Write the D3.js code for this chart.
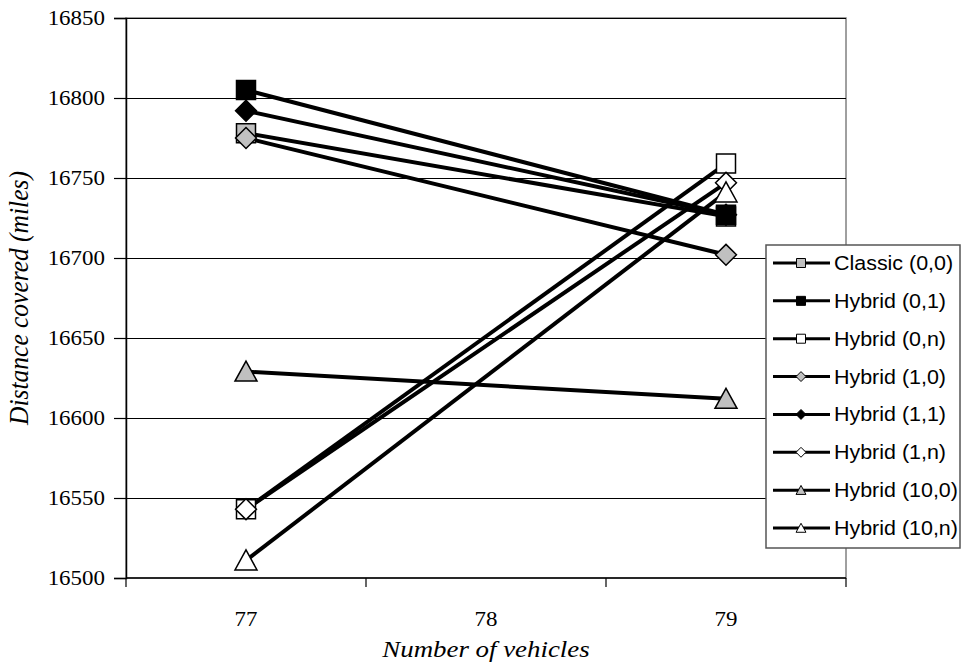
<!DOCTYPE html>
<html>
<head>
<meta charset="utf-8">
<script src="https://cdn.jsdelivr.net/npm/d3@7"></script>
<style>
  html, body { margin: 0; padding: 0; background: #fff; }
  svg { display: block; }
</style>
</head>
<body>
<svg id="chart" width="963" height="668"></svg>
<script>
// Fleet sizes on the x axis
const categories = ["77", "78", "79"];
// Configurations actually run (only 77 and 79 vehicles)
const runCategories = ["77", "79"];

const seriesNames = [
  "Classic (0,0)", "Hybrid (0,1)", "Hybrid (0,n)", "Hybrid (1,0)",
  "Hybrid (1,1)", "Hybrid (1,n)", "Hybrid (10,0)", "Hybrid (10,n)"
];

// Distance covered (miles) at 77 and 79 vehicles
const classic00 = [16778, 16726];
const hybrid01  = [16805, 16727];
const hybrid0n  = [16543, 16759];
const hybrid10  = [16775, 16702];
const hybrid11  = [16792, 16727];
const hybrid1n  = [16543, 16747];
const hybrid100 = [16629, 16612];
const hybrid10n = [16511, 16741];

const seriesValues = [classic00, hybrid01, hybrid0n, hybrid10, hybrid11, hybrid1n, hybrid100, hybrid10n];

const yTicks = [16500, 16550, 16600, 16650, 16700, 16750, 16800, 16850];

// marker shape and fill per series
const markerShapes = ["square", "square", "square", "diamond", "diamond", "diamond", "triangle", "triangle"];
const markerFills  = ["#c0c0c0", "#000000", "#ffffff", "#c0c0c0", "#000000", "#ffffff", "#c0c0c0", "#ffffff"];

const SERIF = '"Liberation Serif", "Times New Roman", Times, serif';
const SANS = '"Liberation Sans", Arial, Helvetica, sans-serif';

const svg = d3.select("#chart");
const plot = { left: 126, right: 846, top: 18, bottom: 578 };

const x = d3.scaleBand().domain(categories).range([plot.left, plot.right]).padding(0);
const y = d3.scaleLinear().domain([16500, 16850]).range([plot.bottom, plot.top]);
const cx = c => x(c) + x.bandwidth() / 2;

// text drawn slightly wide, as in the chart's exported typography
function wideText(parent, tx, ty, str, opts) {
  const g = parent.append("g")
    .attr("transform", `translate(${tx},${ty})${opts.rotate ? ` rotate(${opts.rotate})` : ""} scale(${opts.sx || 1},${opts.sy || 1})`);
  return g.append("text")
    .attr("x", 0).attr("y", 0)
    .attr("text-anchor", opts.anchor || "start")
    .style("font-family", opts.family)
    .style("font-size", opts.size + "px")
    .style("font-style", opts.italic ? "italic" : "normal")
    .style("fill", "#000")
    .text(str);
}

// plot area frame
svg.append("rect")
  .attr("x", plot.left).attr("y", plot.top)
  .attr("width", plot.right - plot.left).attr("height", plot.bottom - plot.top)
  .attr("fill", "#fff").attr("stroke", "#808080").attr("stroke-width", 1.5);

// horizontal gridlines
svg.append("g").selectAll("line").data(yTicks.filter(t => t > 16500)).join("line")
  .attr("x1", plot.left).attr("x2", plot.right)
  .attr("y1", d => Math.round(y(d)) + 0.5).attr("y2", d => Math.round(y(d)) + 0.5)
  .attr("stroke", "#000").attr("stroke-width", 1);

// y axis (line and ticks from d3.axisLeft, labels set in serif)
const yAxis = svg.append("g").attr("transform", `translate(${plot.left},0)`)
  .call(d3.axisLeft(y).tickValues(yTicks).tickSize(12).tickFormat(""));
yAxis.select(".domain").attr("stroke", "#000").attr("stroke-width", 1.5);
yAxis.selectAll(".tick line").attr("stroke", "#000").attr("stroke-width", 1.2);
const yLabels = svg.append("g");
yTicks.forEach(t => {
  wideText(yLabels, 105, y(t) + 7, d3.format("d")(t),
    { family: SERIF, size: 20.5, sx: 1.12, anchor: "end" });
});

// x axis: ticks on category boundaries, labels at category centres
const xAxisG = svg.append("g").attr("transform", `translate(0,${plot.bottom})`);
xAxisG.append("line").attr("x1", plot.left).attr("x2", plot.right).attr("y1", 0).attr("y2", 0)
  .attr("stroke", "#000").attr("stroke-width", 1.5);
const boundaries = categories.map(c => x(c)).concat([x(categories[categories.length - 1]) + x.bandwidth()]);
xAxisG.selectAll("line.b").data(boundaries).join("line").attr("class", "b")
  .attr("x1", d => d).attr("x2", d => d).attr("y1", 0).attr("y2", 9)
  .attr("stroke", "#000").attr("stroke-width", 1.2);
categories.forEach(c => {
  wideText(xAxisG, cx(c), 48, c, { family: SERIF, size: 20.5, sx: 1.12, anchor: "middle" });
});

// axis titles
wideText(svg, (plot.left + plot.right) / 2, 657, "Number of vehicles",
  { family: SERIF, size: 24, sx: 1.12, anchor: "middle", italic: true });
wideText(svg, 28, (plot.top + plot.bottom) / 2, "Distance covered (miles)",
  { family: SERIF, size: 25.5, sy: 1.05, rotate: -90, anchor: "middle", italic: true });

// marker path generator
function markerPath(shape, s) {
  const h = s / 2;
  if (shape === "square") return `M${-h},${-h}H${h}V${h}H${-h}Z`;
  if (shape === "diamond") return `M0,${-h * 1.1}L${h * 1.1},0L0,${h * 1.1}L${-h * 1.1},0Z`;
  return `M0,${-h * 1.05}L${h * 1.1},${h * 0.95}L${-h * 1.1},${h * 0.95}Z`;
}

const line = d3.line().x(d => cx(d.c)).y(d => y(d.v));
const seriesData = seriesNames.map((name, i) => ({
  name, i,
  points: runCategories.map((c, k) => ({ c, v: seriesValues[i][k] }))
}));

// series lines
svg.append("g").selectAll("path").data(seriesData).join("path")
  .attr("d", d => line(d.points))
  .attr("fill", "none").attr("stroke", "#000").attr("stroke-width", 4);

// series markers
const mg = svg.append("g");
seriesData.forEach(s => {
  mg.selectAll(null).data(s.points).join("path")
    .attr("transform", d => `translate(${cx(d.c)},${y(d.v)})`)
    .attr("d", markerPath(markerShapes[s.i], markerShapes[s.i] === "triangle" ? 20 : 19))
    .attr("fill", markerFills[s.i]).attr("stroke", "#000").attr("stroke-width", 1.5);
});

// legend
const lg = svg.append("g").attr("transform", "translate(766,245)");
lg.append("rect").attr("x", 0).attr("y", 0).attr("width", 194).attr("height", 303)
  .attr("fill", "#fff").attr("stroke", "#555").attr("stroke-width", 1.5);
const rowY = d3.scaleLinear().domain([0, seriesNames.length - 1]).range([18, 283]);
const items = lg.selectAll("g.item").data(seriesData).join("g").attr("class", "item")
  .attr("transform", d => `translate(0,${rowY(d.i)})`);
items.append("line").attr("x1", 7).attr("x2", 64).attr("y1", 0).attr("y2", 0)
  .attr("stroke", "#000").attr("stroke-width", 3);
items.append("path").attr("transform", "translate(35,0)")
  .attr("d", d => markerPath(markerShapes[d.i], 9))
  .attr("fill", d => markerFills[d.i]).attr("stroke", "#000").attr("stroke-width", 1);
items.each(function(d) {
  wideText(d3.select(this), 68, 7, d.name, { family: SANS, size: 19.5, sx: 1.1 });
});
</script>
</body>
</html>
